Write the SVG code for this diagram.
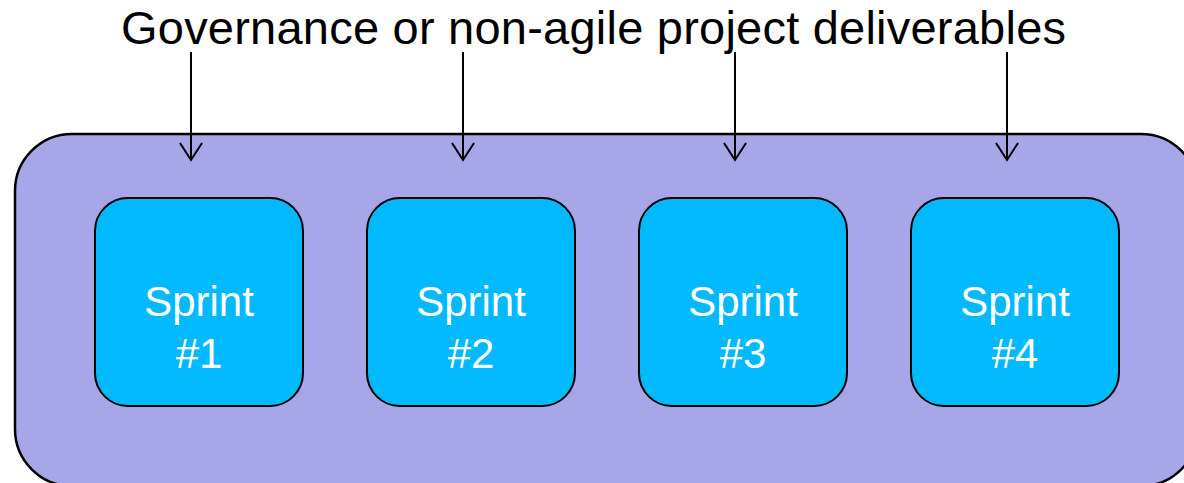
<svg xmlns="http://www.w3.org/2000/svg" width="1184" height="483" viewBox="0 0 1184 483">
  <style>
    .outer { fill: #A6A6E8; stroke: #000; stroke-width: 2.5; }
    .sprint { fill: #00B9FF; stroke: #000; stroke-width: 2; }
    .lbl { font-family: "Liberation Sans", Arial, sans-serif; font-size: 42px; fill: #fff; text-anchor: middle; }
    .title { font-family: "Liberation Sans", Arial, sans-serif; font-size: 47px; fill: #000; }
    .conn { stroke: #000; stroke-width: 2; fill: none; }
  </style>
  <defs>
    <marker id="vhead" viewBox="0 0 20 24" refX="18" refY="12" markerWidth="20" markerHeight="24" markerUnits="userSpaceOnUse" orient="auto">
      <path d="M1,1 L18,12 L1,23" fill="none" stroke="#000" stroke-width="2"/>
    </marker>
  </defs>
  <rect width="1184" height="483" fill="#fff"/>
  <g id="container">
    <rect class="outer" x="15" y="134" width="1183" height="352" rx="57" ry="57"/>
  </g>
  <g id="title">
    <text class="title" x="121" y="44" textLength="945" lengthAdjust="spacing">Governance or non-agile project deliverables</text>
  </g>
  <g id="sprint1">
    <rect class="sprint" x="95" y="198" width="208" height="208" rx="33"/>
    <text class="lbl" x="199" y="316">Sprint</text>
    <text class="lbl" x="199" y="368">#1</text>
  </g>
  <g id="sprint2">
    <rect class="sprint" x="367" y="198" width="208" height="208" rx="33"/>
    <text class="lbl" x="471" y="316">Sprint</text>
    <text class="lbl" x="471" y="368">#2</text>
  </g>
  <g id="sprint3">
    <rect class="sprint" x="639" y="198" width="208" height="208" rx="33"/>
    <text class="lbl" x="743" y="316">Sprint</text>
    <text class="lbl" x="743" y="368">#3</text>
  </g>
  <g id="sprint4">
    <rect class="sprint" x="911" y="198" width="208" height="208" rx="33"/>
    <text class="lbl" x="1015" y="316">Sprint</text>
    <text class="lbl" x="1015" y="368">#4</text>
  </g>
  <g id="connectors">
    <line class="conn" x1="191" y1="52" x2="191" y2="160" marker-end="url(#vhead)"/>
    <line class="conn" x1="463" y1="52" x2="463" y2="160" marker-end="url(#vhead)"/>
    <line class="conn" x1="735" y1="52" x2="735" y2="160" marker-end="url(#vhead)"/>
    <line class="conn" x1="1007" y1="52" x2="1007" y2="160" marker-end="url(#vhead)"/>
  </g>
</svg>
